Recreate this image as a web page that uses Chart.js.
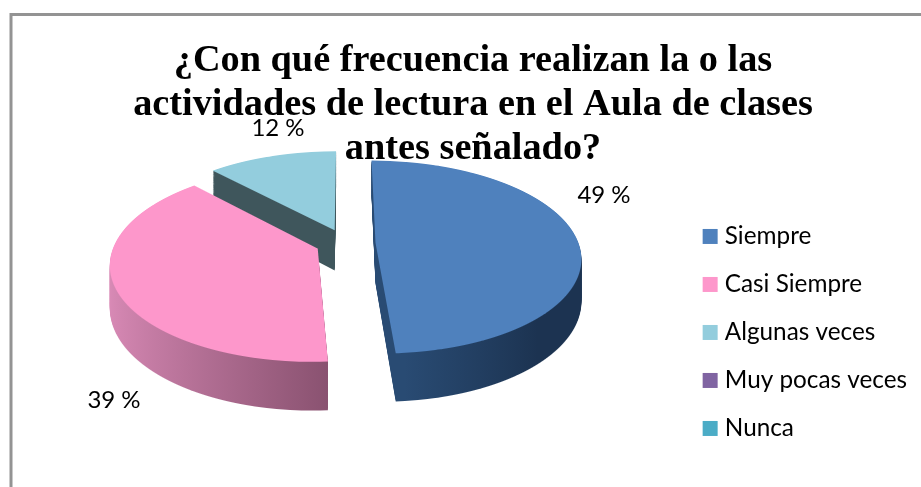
<!DOCTYPE html>
<html><head><meta charset="utf-8">
<style>html,body{margin:0;padding:0;background:#fff;overflow:hidden}canvas{display:block}</style>
<script src="https://cdn.jsdelivr.net/npm/chart.js@4/dist/chart.umd.min.js"></script>
</head><body>
<canvas id="c" width="921" height="487"></canvas>
<script>
const titleLines = ['¿Con qué frecuencia realizan la o las','actividades de lectura en el Aula de clases','antes señalado?'];
const categories = ['Siempre','Casi Siempre','Algunas veces','Muy pocas veces','Nunca'];
const percentages = [49,39,12,0,0];
const faceColors = ['#4f81bd','#fd97cb','#93cddd','#8064a2','#4bacc6'];
const wallFrom = ['#294b73','#da8bb7','#3f565c','#4d3c61','#2d6776'];
const wallTo = ['#1c3351','#87506e','#3f565c','#4d3c61','#2d6776'];
const labelSpots = [[604,195],[114,400],[278,128]];

// view of the tilted pie
const VIEW = {cx:345.5, cy:243, tilt:0.465, persp:1350, depth:41, explode:30, radius:203, rowTop:140, rowBottom:420};
const LABEL_FONT = '"Lato", sans-serif';

function drawRows(ctx, el, zFrom, zTo, fill){
  const {cx,cy,tilt:k,persp:D,explode,rowTop,rowBottom} = VIEW;
  const mid = (el.startAngle + el.endAngle)/2;
  const sx = Math.cos(mid)*explode, sy = Math.sin(mid)*explode;
  const saved = el.options;
  el.options = {backgroundColor:fill,borderColor:'rgba(0,0,0,0)',borderWidth:0,offset:0,spacing:0,borderRadius:0,circular:true,borderAlign:'center',borderDash:[],borderDashOffset:0};
  for(let z=zFrom; z>=zTo; z--){
    for(let yd=rowTop; yd<rowBottom; yd++){
      const h = yd + .5 - cy;
      const Y = D*(h-z)/(h+k*D);
      const den = D-Y;
      const g = D/den;
      const s = D*(k*D+z)/(den*den);
      ctx.save();
      ctx.setTransform(1,0,0,1,0,0);
      ctx.beginPath(); ctx.rect(0,yd,921,1); ctx.clip();
      ctx.setTransform(g,0,0,s, cx+g*(sx-el.x), yd+.5+s*(sy-el.y-Y));
      el.draw(ctx);
      ctx.restore();
    }
  }
  el.options = saved;
}

const tiltedPie = {
  id:'tiltedPie',
  beforeDraw(chart){
    const c = chart.ctx;
    c.save(); c.strokeStyle='#939393'; c.lineWidth=3;
    c.beginPath(); c.moveTo(11,487); c.lineTo(11,14.5); c.lineTo(921,14.5); c.stroke(); c.restore();
  },
  beforeDatasetDraw(chart){
    const ctx = chart.ctx, arcs = chart.getDatasetMeta(0).data;
    arcs.forEach((el,i)=>{
      if(!percentages[i]) return;
      const g = ctx.createLinearGradient(el.x-VIEW.radius,0,el.x+(i===0?VIEW.radius:20),0);
      if(i===0){ g.addColorStop(0,wallFrom[i]); g.addColorStop(.55,wallFrom[i]); g.addColorStop(.85,wallTo[i]); g.addColorStop(1,wallTo[i]); }
      else { g.addColorStop(0,wallFrom[i]); g.addColorStop(1,wallTo[i]); }
      drawRows(ctx, el, VIEW.depth, 1, g);
    });
    arcs.forEach((el,i)=>{
      if(percentages[i]) drawRows(ctx, el, 0, 0, faceColors[i]);
    });
    return false;
  },
  afterDatasetsDraw(chart){
    const ctx = chart.ctx;
    ctx.save();
    ctx.font = '24px '+LABEL_FONT; ctx.fillStyle='#000'; ctx.textAlign='center'; ctx.textBaseline='middle';
    labelSpots.forEach((p,i)=>ctx.fillText(percentages[i]+' %',p[0],p[1]));
    ctx.restore();
  }
};

new Chart(document.getElementById('c'),{
  type:'pie',
  data:{labels:categories,datasets:[{data:percentages,backgroundColor:faceColors,borderWidth:0}]},
  plugins:[tiltedPie],
  options:{
    responsive:false, animation:false, devicePixelRatio:1,
    radius:VIEW.radius,
    layout:{padding:{left:29,right:4,top:0,bottom:0}},
    plugins:{
      tooltip:{enabled:false},
      title:{display:true,text:titleLines,color:'#000',
        font:{family:'"Liberation Serif", serif',weight:'bold',size:38.3,lineHeight:1.15},
        padding:{top:39,bottom:6.8}},
      legend:{position:'right',align:'center',fullSize:false,
        labels:{color:'#000',font:{family:LABEL_FONT,size:24.3},boxWidth:5,boxHeight:5,padding:23.7,
          generateLabels:()=>categories.map((t,i)=>({text:t,fillStyle:faceColors[i],strokeStyle:faceColors[i],lineWidth:10,lineJoin:'miter',index:i,hidden:false}))}}
    }
  }
});
</script>
</body></html>
